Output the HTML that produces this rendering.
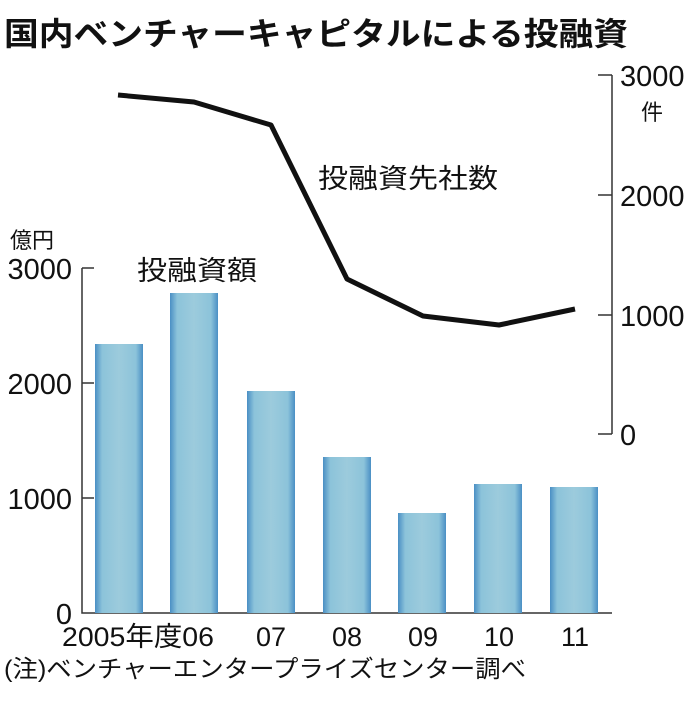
<!DOCTYPE html>
<html><head><meta charset="utf-8"><style>
body{margin:0;background:#fff;}
svg text{font-family:"Liberation Sans","Noto Sans CJK JP",sans-serif;fill:#111;}
</style></head><body>
<svg width="696" height="696" viewBox="0 0 696 696" xmlns="http://www.w3.org/2000/svg">
<defs>
<linearGradient id="g" x1="0" x2="1" y1="0" y2="0">
<stop offset="0" stop-color="#4a8fc4"/>
<stop offset="0.15" stop-color="#8cc3da"/>
<stop offset="0.5" stop-color="#9ccbdc"/>
<stop offset="0.85" stop-color="#8cc3da"/>
<stop offset="1" stop-color="#4a8fc4"/>
</linearGradient>
</defs>
<text x="4" y="45" font-size="32" font-weight="bold" textLength="624" lengthAdjust="spacingAndGlyphs">国内ベンチャーキャピタルによる投融資</text>
<text x="10" y="248" font-size="22">億円</text>
<g font-size="29" text-anchor="end">
<text x="72" y="279">3000</text>
<text x="72" y="394">2000</text>
<text x="72" y="509">1000</text>
<text x="72" y="624">0</text>
</g>
<g stroke="#333" stroke-width="1.5" fill="none">
<path d="M82 268V613H612M82 268H94M82 383H94M82 498H94"/>
<path d="M612 75V434M612 75H598M612 195H598M612 315H598M612 434H598"/>
</g>
<g fill="url(#g)">
<rect x="95" y="344" width="48" height="269"/>
<rect x="170" y="293" width="48" height="320"/>
<rect x="247" y="391" width="48" height="222"/>
<rect x="323" y="457" width="48" height="156"/>
<rect x="398" y="513" width="48" height="100"/>
<rect x="474" y="484" width="48" height="129"/>
<rect x="550" y="487" width="48" height="126"/>
</g>
<polyline points="118,95 194,102 271,125 347,279 423,316 499,325 575,309" fill="none" stroke="#111" stroke-width="5" stroke-linejoin="round"/>
<g font-size="29">
<text x="620" y="86">3000</text>
<text x="620" y="206">2000</text>
<text x="620" y="326">1000</text>
<text x="620" y="445">0</text>
</g>
<text x="641" y="120" font-size="22">件</text>
<text x="318" y="188" font-size="27" textLength="180" lengthAdjust="spacingAndGlyphs">投融資先社数</text>
<text x="137" y="280" font-size="27" textLength="120" lengthAdjust="spacingAndGlyphs">投融資額</text>
<text x="62" y="646" font-size="27" textLength="152" lengthAdjust="spacingAndGlyphs">2005年度06</text>
<g font-size="27" text-anchor="middle">
<text x="271" y="646">07</text>
<text x="347" y="646">08</text>
<text x="423" y="646">09</text>
<text x="499" y="646">10</text>
<text x="575" y="646">11</text>
</g>
<text x="4" y="677" font-size="24" textLength="522" lengthAdjust="spacingAndGlyphs">(注)ベンチャーエンタープライズセンター調べ</text>
</svg>
</body></html>
